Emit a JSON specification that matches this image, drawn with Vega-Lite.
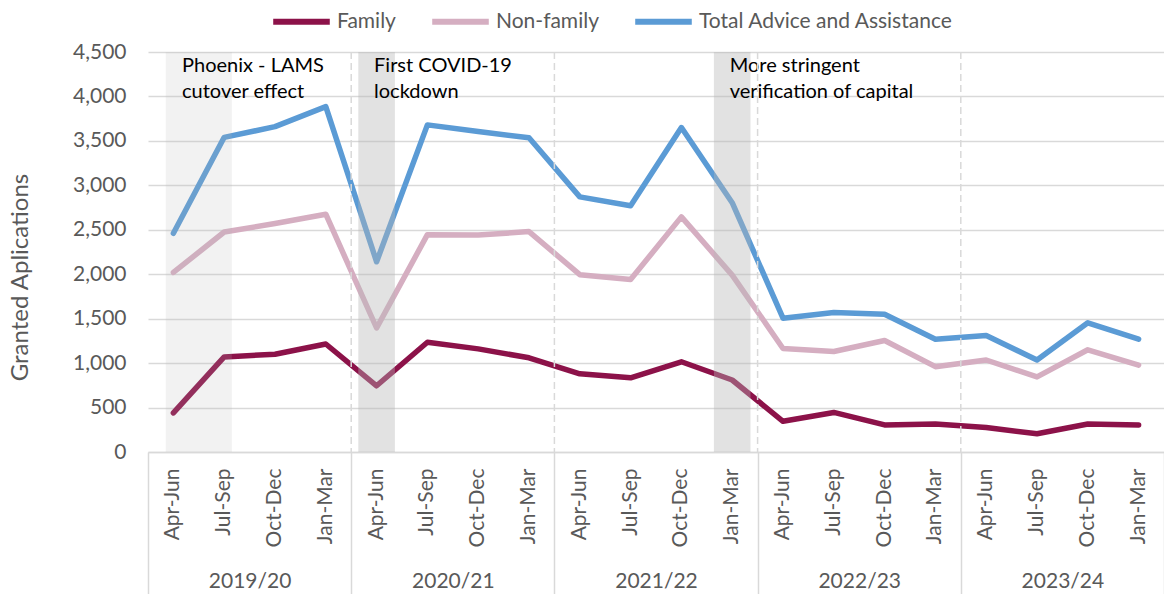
{
  "$schema": "https://vega.github.io/schema/vega-lite/v6.json",
  "width": 1016,
  "height": 400,
  "autosize": {"type": "none"},
  "padding": {"left": 148, "top": 52, "right": 0, "bottom": 142},
  "background": "white",
  "config": {
    "view": {"stroke": null},
    "font": "Lato"
  },
  "datasets": {
    "main": [
      {"period": "2019/20 Apr-Jun", "Family": 440, "Non-family": 2020, "Total Advice and Assistance": 2460},
      {"period": "2019/20 Jul-Sep", "Family": 1070, "Non-family": 2475, "Total Advice and Assistance": 3540},
      {"period": "2019/20 Oct-Dec", "Family": 1100, "Non-family": 2570, "Total Advice and Assistance": 3660},
      {"period": "2019/20 Jan-Mar", "Family": 1215, "Non-family": 2675, "Total Advice and Assistance": 3885},
      {"period": "2020/21 Apr-Jun", "Family": 745, "Non-family": 1395, "Total Advice and Assistance": 2140},
      {"period": "2020/21 Jul-Sep", "Family": 1235, "Non-family": 2445, "Total Advice and Assistance": 3680},
      {"period": "2020/21 Oct-Dec", "Family": 1160, "Non-family": 2440, "Total Advice and Assistance": 3605},
      {"period": "2020/21 Jan-Mar", "Family": 1060, "Non-family": 2480, "Total Advice and Assistance": 3535},
      {"period": "2021/22 Apr-Jun", "Family": 880, "Non-family": 1995, "Total Advice and Assistance": 2870},
      {"period": "2021/22 Jul-Sep", "Family": 835, "Non-family": 1940, "Total Advice and Assistance": 2770},
      {"period": "2021/22 Oct-Dec", "Family": 1015, "Non-family": 2645, "Total Advice and Assistance": 3650},
      {"period": "2021/22 Jan-Mar", "Family": 810, "Non-family": 1990, "Total Advice and Assistance": 2805},
      {"period": "2022/23 Apr-Jun", "Family": 345, "Non-family": 1165, "Total Advice and Assistance": 1505},
      {"period": "2022/23 Jul-Sep", "Family": 445, "Non-family": 1130, "Total Advice and Assistance": 1570},
      {"period": "2022/23 Oct-Dec", "Family": 305, "Non-family": 1255, "Total Advice and Assistance": 1550},
      {"period": "2022/23 Jan-Mar", "Family": 315, "Non-family": 960, "Total Advice and Assistance": 1268},
      {"period": "2023/24 Apr-Jun", "Family": 275, "Non-family": 1035, "Total Advice and Assistance": 1310},
      {"period": "2023/24 Jul-Sep", "Family": 205, "Non-family": 845, "Total Advice and Assistance": 1035},
      {"period": "2023/24 Oct-Dec", "Family": 315, "Non-family": 1150, "Total Advice and Assistance": 1453},
      {"period": "2023/24 Jan-Mar", "Family": 305, "Non-family": 978, "Total Advice and Assistance": 1270}
    ],
    "lightShade": [
      {"from": "2019/20 Apr-Jun", "to": "2019/20 Jul-Sep"}
    ],
    "darkShade": [
      {"from": "2020/21 Apr-Jun", "to": "2020/21 Apr-Jun"},
      {"from": "2021/22 Jan-Mar", "to": "2021/22 Jan-Mar"}
    ],
    "noteA": [
      {"period": "2019/20 Apr-Jun", "note": "Phoenix - LAMS\ncutover effect", "y": 4500}
    ],
    "noteB": [
      {"period": "2020/21 Apr-Jun", "note": "First COVID-19\nlockdown", "y": 4500},
      {"period": "2021/22 Jan-Mar", "note": "More stringent\nverification of capital", "y": 4500}
    ],
    "years": [
      {"year": "2019/20"}, {"year": "2020/21"}, {"year": "2021/22"}, {"year": "2022/23"}, {"year": "2023/24"}
    ]
  },
  "layer": [
    {
      "encoding": {
        "x": {
          "field": "period",
          "type": "nominal",
          "scale": {
            "type": "band",
            "paddingInner": 0,
            "paddingOuter": 0,
            "domain": [
              "2019/20 Apr-Jun", "2019/20 Jul-Sep", "2019/20 Oct-Dec", "2019/20 Jan-Mar",
              "2020/21 Apr-Jun", "2020/21 Jul-Sep", "2020/21 Oct-Dec", "2020/21 Jan-Mar",
              "2021/22 Apr-Jun", "2021/22 Jul-Sep", "2021/22 Oct-Dec", "2021/22 Jan-Mar",
              "2022/23 Apr-Jun", "2022/23 Jul-Sep", "2022/23 Oct-Dec", "2022/23 Jan-Mar",
              "2023/24 Apr-Jun", "2023/24 Jul-Sep", "2023/24 Oct-Dec", "2023/24 Jan-Mar"
            ]
          },
          "axis": {
            "orient": "bottom",
            "title": null,
            "labelExpr": "split(datum.value, ' ')[1]",
            "labelAngle": -90,
            "labelFont": "Lato",
            "labelFontSize": 21,
            "labelColor": "#595959",
            "labelPadding": 16,
            "ticks": false,
            "grid": false,
            "domainColor": "#d9d9d9",
            "domainWidth": 1.5
          }
        }
      },
      "layer": [
        {
          "data": {"name": "main"},
          "transform": [
            {"fold": ["Family", "Non-family", "Total Advice and Assistance"], "as": ["series", "value"]}
          ],
          "mark": {"type": "line", "strokeWidth": 5.5, "strokeCap": "round", "strokeJoin": "round"},
          "encoding": {
            "x": {"field": "period", "type": "nominal", "bandPosition": 0.5},
            "y": {
              "field": "value",
              "type": "quantitative",
              "scale": {"domain": [0, 4500], "nice": false},
              "axis": {
                "title": "Granted Aplications",
                "titleFont": "Lato",
                "titleFontSize": 24,
                "titleFontWeight": "normal",
                "titleColor": "#595959",
                "titlePadding": 40,
                "titleY": 225,
                "values": [0, 500, 1000, 1500, 2000, 2500, 3000, 3500, 4000, 4500],
                "format": ",.0f",
                "labelFont": "Lato",
                "labelFontSize": 21,
                "labelColor": "#595959",
                "labelPadding": 22,
                "ticks": false,
                "domain": false,
                "grid": true,
                "gridColor": "#d9d9d9",
                "gridWidth": 1.5
              }
            },
            "color": {
              "field": "series",
              "type": "nominal",
              "scale": {
                "domain": ["Family", "Non-family", "Total Advice and Assistance"],
                "range": ["#8c1249", "#d5aec1", "#5b9bd5"]
              },
              "legend": {
                "title": null,
                "orient": "none",
                "direction": "horizontal",
                "legendX": 122,
                "legendY": -62,
                "symbolType": "stroke",
                "symbolSize": 3200,
                "symbolStrokeWidth": 6,
                "labelFont": "Lato",
                "labelFontSize": 21,
                "labelColor": "#595959",
                "labelOffset": 4,
                "labelLimit": 400,
                "columnPadding": 24
              }
            },
            "order": {"value": null}
          }
        },
        {
          "data": {"name": "lightShade"},
          "mark": {"type": "rect", "color": "#b7b7b7", "opacity": 0.18},
          "encoding": {
            "x": {"field": "from", "type": "nominal", "bandPosition": 0.35},
            "x2": {"field": "to", "bandPosition": 0.65}
          }
        },
        {
          "data": {"name": "darkShade"},
          "mark": {"type": "rect", "color": "#b7b7b7", "opacity": 0.4},
          "encoding": {
            "x": {"field": "from", "type": "nominal", "bandPosition": 0.14},
            "x2": {"field": "to", "bandPosition": 0.86}
          }
        },
        {
          "data": {"name": "noteA"},
          "mark": {"type": "text", "align": "left", "baseline": "top", "lineBreak": "\n", "lineHeight": 26, "font": "Lato", "fontSize": 20, "color": "#000000", "dy": 4},
          "encoding": {
            "x": {"field": "period", "type": "nominal", "bandPosition": 0.67},
            "y": {"field": "y", "type": "quantitative"},
            "text": {"field": "note"}
          }
        },
        {
          "data": {"name": "noteB"},
          "mark": {"type": "text", "align": "left", "baseline": "top", "lineBreak": "\n", "lineHeight": 26, "font": "Lato", "fontSize": 20, "color": "#000000", "dy": 4},
          "encoding": {
            "x": {"field": "period", "type": "nominal", "bandPosition": 0.45},
            "y": {"field": "y", "type": "quantitative"},
            "text": {"field": "note"}
          }
        }
      ]
    },
    {
      "data": {"name": "years"},
      "transform": [{"filter": "datum.year != '2019/20'"}],
      "mark": {"type": "rule", "color": "#d9d9d9", "strokeWidth": 1.5, "strokeDash": [7, 4]},
      "encoding": {
        "x": {
          "field": "year",
          "type": "nominal",
          "bandPosition": 0,
          "scale": {
            "type": "band",
            "paddingInner": 0,
            "paddingOuter": 0,
            "domain": ["2019/20", "2020/21", "2021/22", "2022/23", "2023/24"]
          },
          "axis": {
            "orient": "bottom",
            "title": null,
            "labelAngle": 0,
            "tickBand": "extent",
            "tickSize": 145,
            "tickColor": "#d9d9d9",
            "tickWidth": 1.5,
            "domain": false,
            "grid": false,
            "labelFont": "Lato",
            "labelFontSize": 21,
            "labelColor": "#595959",
            "labelPadding": -27
          }
        }
      }
    }
  ],
  "resolve": {"scale": {"x": "independent"}, "axis": {"x": "independent"}}
}
